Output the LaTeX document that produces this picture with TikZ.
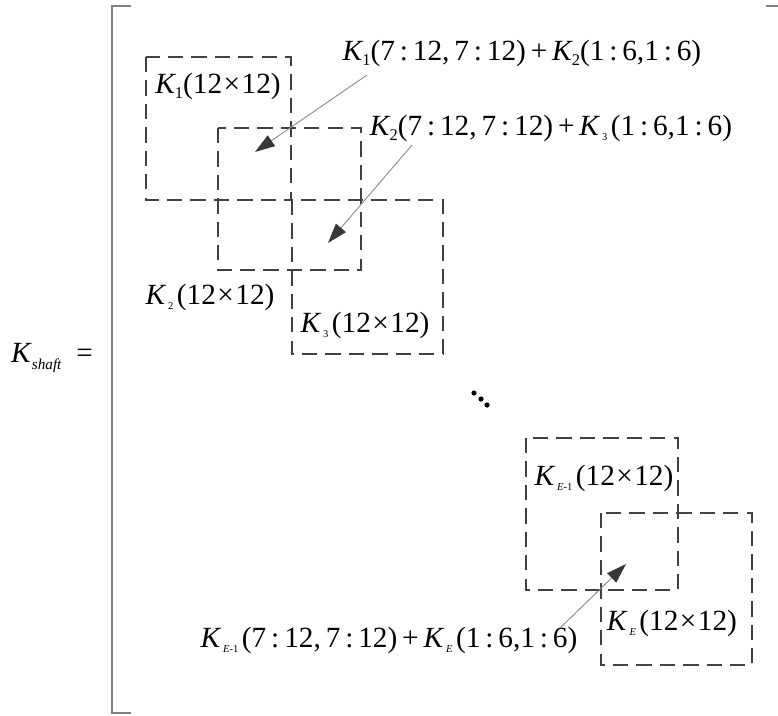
\documentclass[tikz,border=0pt]{standalone}
\usepackage{fontspec}
\setmainfont{Liberation Serif}
\usepackage{tikz}
\usetikzlibrary{arrows.meta,positioning}

% K with a normal or a tiny subscript
\newcommand{\Kn}[1]{\textit{K}\kern-0.04em\raisebox{-0.4ex}{\fontsize{14}{14}\selectfont #1}}
\newcommand{\Kt}[1]{\textit{K}\kern0.06em\raisebox{-0.4ex}{\fontsize{9}{9}\selectfont #1}\kern0.12em}
\newcommand{\cln}{\,:\,}

\begin{document}
\begin{tikzpicture}[
  x=0.03cm, y=-0.03cm,
  lbl/.style     = {inner sep=0pt, font=\fontsize{25}{29}\selectfont},
  dbox/.style    = {draw=black!75, line width=1.8pt, dash pattern=on 13pt off 7pt},
  bracket/.style = {draw=black!50, line width=1.6pt},
  arr/.style     = {draw=black!45, line width=0.8pt,
                    -{Triangle[length=17pt,width=11pt,color=black!78]}}
]
\useasboundingbox (0,0) rectangle (778,715);

% matrix bracket
\draw[bracket] (131,6) -- (112,6) -- (112,713) -- (131,713);
\draw[bracket] (766,6) -- (778,6);

% element blocks
\draw[dbox] (146,57)  rectangle (291,200);
\draw[dbox] (218,128) rectangle (361,270);
\draw[dbox] (292,200) rectangle (443,354);
\draw[dbox] (526,438) rectangle (678,590);
\draw[dbox] (601,513) rectangle (752,665);

% labels
\node[lbl] (shaft) at (52,358)  {\textit{K}\raisebox{-0.5ex}{\fontsize{13}{13}\selectfont\textit{shaft}}\ \ =};
\node[lbl] (blk1)  at (218,86)  {\Kn{1}(12\kern0.05em×\kern0.05em12)};
\node[lbl] (blk2)  at (210,297) {\Kt{2}(12\kern0.05em×\kern0.05em12)};
\node[lbl] (blk3)  at (365,325) {\Kt{3}(12\kern0.05em×\kern0.05em12)};
\node[lbl] (blkEm) at (604,478) {\Kt{\textit{E}-1}(12\kern0.05em×\kern0.05em12)};
\node[lbl] (blkE)  at (672,623) {\Kt{\textit{E}}(12\kern0.05em×\kern0.05em12)};
\node[lbl] (sum1)  at (522,53)  {\Kn{1}(7\cln12,\,7\cln12)\,+\,\Kn{2}(1\cln6,1\cln6)};
\node[lbl] (sum2)  at (551,128) {\Kn{2}(7\cln12,\,7\cln12)\,+\,\Kt{3}(1\cln6,1\cln6)};
\node[lbl] (sumE)  at (389,640) {\Kt{\textit{E}-1}(7\cln12,\,7\cln12)\,+\,\Kt{\textit{E}}(1\cln6,1\cln6)};

% dots
\fill (474,393) circle (2.6) (481,399) circle (2.6) (487,405) circle (2.6);

% arrows to overlaps
\coordinate (s1) at (367,75);
\coordinate (t1) at (255,152);
\coordinate (s2) at (412,145);
\coordinate (t2) at (328,243);
\coordinate (sE) at (560,628);
\coordinate (tE) at (626,564);
\draw[arr] (s1) -- (t1);
\draw[arr] (s2) -- (t2);
\draw[arr] (sE) -- (tE);
\end{tikzpicture}
\end{document}
